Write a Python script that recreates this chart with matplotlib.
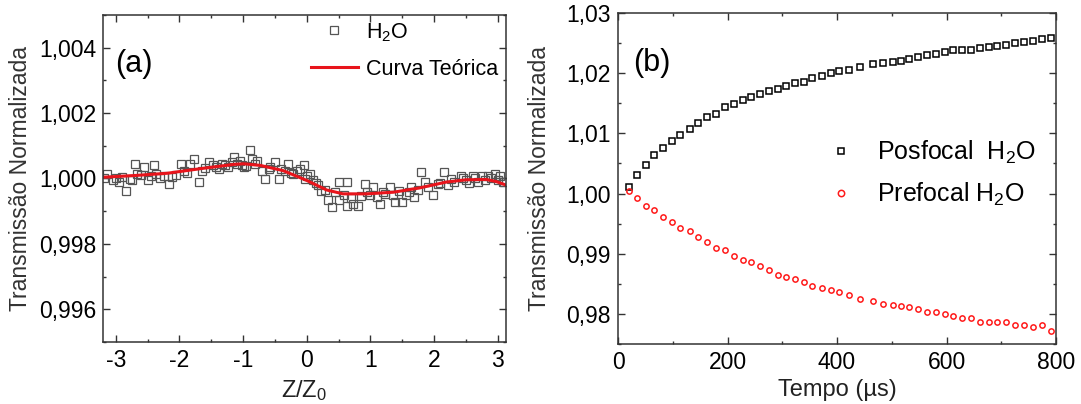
import numpy as np
import matplotlib
matplotlib.use("Agg")
import matplotlib.pyplot as plt
from matplotlib.ticker import MultipleLocator, FuncFormatter

plt.rcParams['font.family'] = ['Liberation Sans', 'DejaVu Sans']
plt.rcParams['mathtext.fontset'] = 'custom'
plt.rcParams['mathtext.rm'] = 'Liberation Sans'
plt.rcParams['mathtext.default'] = 'regular'
plt.rcParams['axes.unicode_minus'] = False

# ---- panel (a): Z-scan, H2O ----
z_exp = [-3.13, -3.05, -2.95, -2.84, -2.74, -2.69, -2.66, -2.56, -2.50, -2.40,
         -2.37, -2.24, -2.17, -2.11, -1.98, -1.93, -1.83, -1.77, -1.70, -1.64,
         -1.54, -1.43, -1.33, -1.23, -1.15, -1.10, -1.02, -0.99, -0.89, -0.86,
         -0.78, -0.70, -0.65, -0.57, -0.50, -0.44, -0.34, -0.29, -0.21, -0.10,
         -0.05, -0.03, 0.05, 0.10, 0.18, 0.23, 0.34, 0.39, 0.50, 0.50,
         0.63, 0.63, 0.73, 0.81, 0.91, 0.94, 1.04, 1.15, 1.23, 1.30,
         1.38, 1.49, 1.56, 1.64, 1.69, 1.80, 1.85, 1.98, 2.06, 2.16,
         2.22, 2.32, 2.42, 2.50, 2.61, 2.69, 2.76, 2.84, 2.95, 3.03,
         3.08,
         -3.18, -3.00, -2.90, -2.78, -2.60, -2.45, -2.30, -2.05, -1.88, -1.60,
         -1.48, -1.38, -1.28, -1.18, -1.05, -0.95, -0.82, -0.60, -0.40, -0.25,
         -0.15, 0.00, 0.14, 0.28, 0.45, 0.58, 0.70, 0.86, 1.00, 1.10,
         1.20, 1.35, 1.45, 1.60, 1.75, 1.90, 2.10, 2.27, 2.45, 2.55,
         2.65, 2.80, 2.90, 3.00, 3.10]
t_exp = [1.00014, 0.99996, 0.99989, 0.99963, 0.99994, 1.00045, 1.00014, 1.00035, 0.99994, 1.00040,
         1.00014, 1.00009, 0.99984, 1.00004, 1.00045, 1.00024, 1.00045, 1.00060, 0.99989, 1.00024,
         1.00050, 1.00035, 1.00045, 1.00035, 1.00065, 1.00045, 1.00040, 1.00035, 1.00086, 1.00060,
         1.00055, 1.00024, 0.99999, 1.00035, 1.00050, 0.99999, 1.00024, 1.00045, 1.00014, 1.00030,
         1.00040, 0.99999, 1.00014, 0.99994, 0.99979, 0.99963, 0.99933, 0.99912, 0.99933, 0.99989,
         0.99989, 0.99917, 0.99923, 0.99917, 0.99984, 0.99958, 0.99973, 0.99923, 0.99953, 0.99973,
         0.99928, 0.99928, 0.99948, 0.99973, 0.99943, 1.00019, 0.99989, 0.99948, 0.99984, 1.00019,
         0.99979, 0.99989, 1.00009, 0.99994, 1.00009, 0.99989, 1.00009, 1.00009, 1.00014, 1.00009,
         0.99989,
         1.00002, 1.00000, 1.00005, 0.99998, 1.00010, 1.00008, 1.00003, 1.00010, 1.00018, 1.00032,
         1.00040, 1.00028, 1.00042, 1.00050, 1.00052, 1.00038, 1.00045, 1.00030, 1.00028, 1.00018,
         1.00022, 1.00008, 0.99985, 0.99965, 0.99958, 0.99948, 0.99940, 0.99945, 0.99950, 0.99942,
         0.99960, 0.99948, 0.99962, 0.99958, 0.99965, 0.99975, 0.99985, 0.99998, 1.00000, 0.99985,
         1.00000, 0.99995, 1.00000, 0.99995, 0.99990]

z_teo = [-3.20, -3.18, -2.71, -2.19, -1.67, -1.15, -0.99, -0.73, -0.37, 0.00,
         0.31, 0.57, 0.94, 1.36, 1.77, 2.19, 2.50, 2.82, 2.97, 3.10, 3.15]
t_teo = [1.00004, 1.00004, 1.00009, 1.00016, 1.00030, 1.00043, 1.00045, 1.00040, 1.00024, 0.99994,
         0.99965, 0.99953, 0.99953, 0.99958, 0.99971, 0.99989, 0.99996, 0.99997, 0.99991, 0.99982,
         0.99978]

# ---- panel (b): time evolution ----
tempo = [19.5, 35.3, 51.8, 66.4, 82.9, 99.3, 113.9, 131.0, 146.2, 163.3,
         179.7, 196.2, 212.0, 228.5, 243.7, 259.6, 276.0, 292.5, 307.7, 324.1,
         340.0, 355.2, 371.7, 388.1, 404.0, 421.6, 441.7, 466.1, 484.4, 501.5,
         516.7, 531.9, 548.4, 564.8, 580.7, 597.1, 612.3, 628.2, 644.6, 661.1,
         677.5, 692.8, 708.0, 725.0, 740.9, 757.4, 773.8, 790.3]
posfocal = [1.0011, 1.0031, 1.0047, 1.0064, 1.0076, 1.0088, 1.0098, 1.0108, 1.0118, 1.0128,
            1.0133, 1.0143, 1.0148, 1.0156, 1.0161, 1.0166, 1.0170, 1.0174, 1.0179, 1.0183,
            1.0186, 1.0192, 1.0196, 1.0200, 1.0203, 1.0206, 1.0211, 1.0215, 1.0217, 1.0219,
            1.0221, 1.0224, 1.0227, 1.0230, 1.0232, 1.0235, 1.0238, 1.0239, 1.0239, 1.0242,
            1.0243, 1.0246, 1.0247, 1.0250, 1.0251, 1.0254, 1.0256, 1.0258]
prefocal = [1.0004, 0.9992, 0.9979, 0.9973, 0.9961, 0.9953, 0.9943, 0.9937, 0.9928, 0.9919,
            0.9910, 0.9907, 0.9897, 0.9890, 0.9886, 0.9879, 0.9873, 0.9864, 0.9861, 0.9858,
            0.9853, 0.9846, 0.9843, 0.9840, 0.9837, 0.9831, 0.9825, 0.9822, 0.9817, 0.9815,
            0.9813, 0.9811, 0.9808, 0.9804, 0.9804, 0.9800, 0.9797, 0.9794, 0.9793, 0.9787,
            0.9786, 0.9786, 0.9786, 0.9781, 0.9781, 0.9779, 0.9781, 0.9771]


def comma_fmt(nd):
    return FuncFormatter(lambda v, p: f"{v:.{nd}f}".replace('.', ','))


def style_axes(ax, lab_size):
    for s in ax.spines.values():
        s.set_linewidth(1.1)
        s.set_color('#333333')
    ax.tick_params(which='both', direction='in', top=True, right=True,
                   colors='#333333', labelcolor='black', labelsize=lab_size)
    ax.tick_params(which='major', length=5, width=1.0, pad=5)
    ax.tick_params(which='minor', length=2.5, width=1.0)


fig = plt.figure(figsize=(10.81, 4.04), dpi=100)

# (a)
ax1 = fig.add_axes([0.0953, 0.1535, 0.3728, 0.8094])
ax1.plot(z_exp, t_exp, ls='none', marker='s', ms=6.3, mfc='none', mec='#555555', mew=0.9,
         label='H$_2$O')
ax1.plot(z_teo, t_teo, color='#e8141b', lw=2.2, label='Curva Teórica')
ax1.set_xlim(-3.2, 3.13)
ax1.set_ylim(0.995, 1.005)
ax1.xaxis.set_major_locator(MultipleLocator(1))
ax1.xaxis.set_minor_locator(MultipleLocator(0.5))
ax1.yaxis.set_major_locator(MultipleLocator(0.002))
ax1.yaxis.set_minor_locator(MultipleLocator(0.001))
ax1.yaxis.set_major_formatter(comma_fmt(3))
style_axes(ax1, 16.5)
ax1.set_xlabel('Z/Z$_0$', fontsize=17, color='#222222')
ax1.xaxis.set_label_coords(0.5, -0.11)
ax1.set_ylabel('Transmissão Normalizada', fontsize=16.5, color='#333333')
ax1.yaxis.set_label_coords(-0.175, 0.5)
ax1.text(0.03, 0.85, '(a)', transform=ax1.transAxes, fontsize=22, va='center', ha='left')
ax1.legend(loc='upper right', bbox_to_anchor=(0.99, 0.995), frameon=False, fontsize=15.5,
           handlelength=2.2, handletextpad=0.35, labelspacing=0.7, borderpad=0.2,
           borderaxespad=0)

# (b)
ax2 = fig.add_axes([0.5717, 0.1485, 0.4052, 0.8193])
ax2.plot(tempo, posfocal, ls='none', marker='s', ms=3.8, mfc='none', mec='black', mew=1.1,
         label='Posfocal  H$_2$O')
ax2.plot(tempo, prefocal, ls='none', marker='o', ms=3.8, mfc='none', mec='#ff1a1a', mew=1.1,
         label='Prefocal H$_2$O')
ax2.set_xlim(0, 800)
ax2.set_ylim(0.975, 1.03)
ax2.xaxis.set_major_locator(MultipleLocator(200))
ax2.xaxis.set_minor_locator(MultipleLocator(100))
ax2.yaxis.set_major_locator(MultipleLocator(0.01))
ax2.yaxis.set_minor_locator(MultipleLocator(0.005))
ax2.yaxis.set_major_formatter(comma_fmt(2))
style_axes(ax2, 16.5)
ax2.set_xlabel('Tempo (µs)', fontsize=17, color='#222222')
ax2.xaxis.set_label_coords(0.5, -0.105)
ax2.set_ylabel('Transmissão Normalizada', fontsize=16.5, color='#333333')
ax2.yaxis.set_label_coords(-0.152, 0.5)
ax2.text(0.034, 0.85, '(b)', transform=ax2.transAxes, fontsize=22, va='center', ha='left')
ax2.legend(loc='upper left', bbox_to_anchor=(0.452, 0.62), frameon=False, fontsize=18,
           handlelength=2.0, handletextpad=0.45, labelspacing=0.6, borderpad=0,
           borderaxespad=0, markerscale=1.2)

fig.savefig('out.png', dpi=100)
